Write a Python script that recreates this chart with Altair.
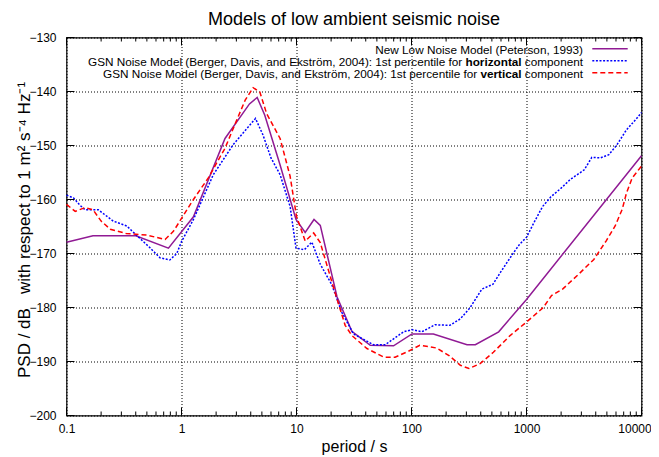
import altair as alt
import pandas as pd

# ---------------- data ----------------
nlnm_period = [0.1, 0.17, 0.4, 0.77, 1.27, 2.39, 3.9, 4.55, 5.3, 7.2, 9.9, 11.9,
               14.2, 16.1, 22.5, 30.3, 43.8, 69.8, 101, 155, 304, 359, 573, 1000, 10000]
nlnm_db = [-167.9, -166.7, -166.7, -169.0, -163.2, -148.7, -142.3, -141.1, -144.4,
           -153.6, -163.7, -166.1, -163.7, -164.8, -178.0, -184.4, -187.0, -187.1,
           -184.9, -184.9, -186.9, -186.9, -184.5, -178.5, -151.9]

horiz_period = [0.1, 0.115, 0.13, 0.145, 0.189, 0.255, 0.334, 0.42, 0.53, 0.65, 0.79,
                0.91, 1.0, 1.27, 1.89, 2.8, 4.4, 5.1, 6.0, 7.2, 8.8, 9.9, 11.7, 13.6,
                16.1, 20.2, 24.8, 31.3, 46.7, 59, 85.4, 101, 123, 160, 216, 266, 324,
                409, 511, 593, 675, 775, 870, 1000, 1160, 1380, 1630, 2000, 2400, 3180,
                3700, 4400, 5200, 6100, 7400, 8900, 10000]
horiz_db = [-159.2, -159.7, -161.0, -161.9, -161.9, -164.0, -164.9, -166.9, -168.9,
            -170.8, -171.2, -170.0, -167.8, -163.7, -155.4, -149.9, -145.0, -148.0,
            -152.3, -155.4, -161.3, -169.0, -169.3, -167.9, -172.0, -175.7, -180.9,
            -184.9, -186.9, -186.9, -184.5, -184.1, -184.5, -183.2, -183.3, -182.1,
            -180.0, -176.6, -175.7, -173.5, -171.7, -169.8, -168.3, -167.0, -164.3,
            -161.3, -159.5, -157.9, -156.3, -154.5, -152.2, -152.3, -151.7, -149.9,
            -147.1, -145.2, -143.9]

vert_period = [0.1, 0.119, 0.145, 0.17, 0.2, 0.24, 0.33, 0.5, 0.72, 0.85, 1.27, 1.71,
               2.39, 2.94, 3.58, 4.2, 4.8, 5.5, 7.2, 8.8, 10.0, 11.9, 14.1, 16.1, 21.6,
               26.5, 30.3, 41, 57.5, 72, 94, 118, 165, 212, 266, 316, 395, 515, 720,
               1000, 1400, 1650, 2060, 2950, 3850, 4950, 5900, 6800, 7400, 8300, 9200,
               10000]
vert_db = [-160.9, -162.2, -161.5, -161.9, -164.0, -165.5, -166.3, -166.6, -167.4,
           -165.9, -160.0, -156.0, -150.5, -145.9, -141.6, -139.3, -140.1, -144.1,
           -148.7, -155.7, -163.1, -167.7, -166.2, -168.0, -177.2, -183.3, -185.2,
           -187.6, -189.2, -189.2, -188.1, -187.0, -187.5, -188.9, -190.7, -191.3,
           -190.4, -188.3, -185.2, -182.7, -180.0, -177.8, -176.6, -173.5, -171.1,
           -167.6, -164.9, -161.8, -158.8, -156.0, -154.8, -153.8]

x_major = [0.1, 1, 10, 100, 1000, 10000]
x_minor = [m * 10.0 ** k for k in range(-1, 4) for m in range(2, 10)]
y_major = [-200, -190, -180, -170, -160, -150, -140, -130]

chart_title = "Models of low ambient seismic noise"
legend_main = ["New Low Noise Model (Peterson, 1993)",
               "GSN Noise Model (Berger, Davis, and Ekström, 2004): 1st percentile for",
               "GSN Noise Model (Berger, Davis, and Ekström, 2004): 1st percentile for"]
legend_bold = ["", "horizontal", "vertical"]
legend_tail = ["", "component", "component"]

# ---------------- styles ----------------
FONT = "Liberation Sans"
W, H = 575, 378
PURPLE, BLUE, RED = "#901a94", "#0000ff", "#ff0000"
DASH_H = [2, 1.6]
DASH_V = [5, 3]

rows = []
for name, ps, vs in [("nlnm", nlnm_period, nlnm_db),
                     ("horizontal", horiz_period, horiz_db),
                     ("vertical", vert_period, vert_db)]:
    rows += [{"series": name, "period": p, "psd": v} for p, v in zip(ps, vs)]
df = pd.DataFrame(rows)

xscale = alt.Scale(type="log", domain=[0.1, 10000], nice=False)
yscale = alt.Scale(domain=[-200, -130], nice=False, zero=False)

x_enc = alt.X("period:Q", scale=xscale,
              axis=alt.Axis(values=x_major, format="~g", title="period / s",
                            grid=True, gridColor="black", gridDash=[1, 2], gridOpacity=1,
                            ticks=False, tickSize=0, domain=False,
                            labelFont=FONT, labelFontSize=12, labelColor="black",
                            labelPadding=7.5, labelFlush=False,
                            labelOffset={"condition": {"test": "datum.value >= 10000", "value": -7},
                                         "value": 0},
                            titleFont=FONT, titleFontSize=16, titleFontWeight="normal",
                            titleColor="black", titleX=W / 2, titleY=36,
                            titleAlign="center", titleBaseline="alphabetic"))
y_enc = alt.Y("psd:Q", scale=yscale,
              axis=alt.Axis(values=y_major, title="PSD / dB\u00a0\u00a0 with respect to 1 m² s⁻⁴ Hz⁻¹",
                            grid=True, gridColor="black", gridDash=[1, 2], gridOpacity=1,
                            ticks=False, tickSize=0, domain=False,
                            labelFont=FONT, labelFontSize=12, labelColor="black",
                            labelPadding=10.5, labelFlush=False,
                            titleFont=FONT, titleFontSize=17, titleFontWeight="normal",
                            titleColor="black", titleX=-37, titleY=192, titleAngle=270,
                            titleAlign="center", titleBaseline="alphabetic"))

base = alt.Chart(df)
l_nlnm = base.transform_filter(alt.datum.series == "nlnm").mark_line(
    color=PURPLE, strokeWidth=1.5).encode(x=x_enc, y=y_enc)
l_h = base.transform_filter(alt.datum.series == "horizontal").mark_line(
    color=BLUE, strokeWidth=1.5, strokeDash=DASH_H).encode(x="period:Q", y="psd:Q")
l_v = base.transform_filter(alt.datum.series == "vertical").mark_line(
    color=RED, strokeWidth=1.5, strokeDash=DASH_V).encode(x="period:Q", y="psd:Q")

# inward ticks (gnuplot style), drawn through the scales
xmin_df = pd.DataFrame({"period": x_minor})
xmaj_df = pd.DataFrame({"period": x_major})
ymaj_df = pd.DataFrame({"psd": y_major})
tick_layers = []
for d, ln in [(xmin_df, 4), (xmaj_df, 8)]:
    tick_layers.append(alt.Chart(d).mark_rule(color="black", strokeWidth=1).encode(
        x="period:Q", y=alt.value(0), y2=alt.value(ln)))
    tick_layers.append(alt.Chart(d).mark_rule(color="black", strokeWidth=1).encode(
        x="period:Q", y=alt.value(H), y2=alt.value(H - ln)))
tick_layers.append(alt.Chart(ymaj_df).mark_rule(color="black", strokeWidth=1).encode(
    y="psd:Q", x=alt.value(0), x2=alt.value(8)))
tick_layers.append(alt.Chart(ymaj_df).mark_rule(color="black", strokeWidth=1).encode(
    y="psd:Q", x=alt.value(W), x2=alt.value(W - 8)))

one = pd.DataFrame({"a": [0]})

# title
title_layer = alt.Chart(one).mark_text(
    text=chart_title, font=FONT, fontSize=18, color="black",
    align="center", baseline="alphabetic").encode(x=alt.value(W / 2), y=alt.value(-13))

# legend (inside, top right)
FS = 11.75
TXT_R = 516.5
SP = 0.278 * FS
COMP_W = 4.947 * FS
BOLD_W = {"horizontal": 4.778 * FS, "vertical": 3.502 * FS}
line_y = [11.2, 23.2, 35.2]
text_y = [16.2, 28.2, 40.2]
styles = [dict(color=PURPLE, strokeWidth=1.5),
          dict(color=BLUE, strokeWidth=1.5, strokeDash=DASH_H),
          dict(color=RED, strokeWidth=1.5, strokeDash=DASH_V)]
legend_layers = []
for i in range(3):
    legend_layers.append(alt.Chart(one).mark_rule(**styles[i]).encode(
        x=alt.value(525.8), x2=alt.value(561.2), y=alt.value(line_y[i])))
    tstyle = dict(font=FONT, fontSize=FS, color="black", align="right", baseline="alphabetic")
    if legend_bold[i]:
        bold_r = TXT_R - COMP_W - SP
        main_r = bold_r - BOLD_W[legend_bold[i]] - SP
        legend_layers.append(alt.Chart(one).mark_text(text=legend_tail[i], **tstyle).encode(
            x=alt.value(TXT_R), y=alt.value(text_y[i])))
        legend_layers.append(alt.Chart(one).mark_text(text=legend_bold[i], fontWeight="bold", **tstyle).encode(
            x=alt.value(bold_r), y=alt.value(text_y[i])))
        legend_layers.append(alt.Chart(one).mark_text(text=legend_main[i], **tstyle).encode(
            x=alt.value(main_r), y=alt.value(text_y[i])))
    else:
        legend_layers.append(alt.Chart(one).mark_text(text=legend_main[i], **tstyle).encode(
            x=alt.value(TXT_R), y=alt.value(text_y[i])))

chart = alt.layer(l_nlnm, l_h, l_v, *tick_layers, title_layer, *legend_layers).properties(
    width=W, height=H,
    padding={"left": 58.5, "top": 29.5, "right": 9.5, "bottom": 40},
    autosize=alt.AutoSizeParams(type="none"),
).configure_view(stroke="black", strokeWidth=1.2)

chart.save("out.html", embed_options={"renderer": "svg", "actions": False})
